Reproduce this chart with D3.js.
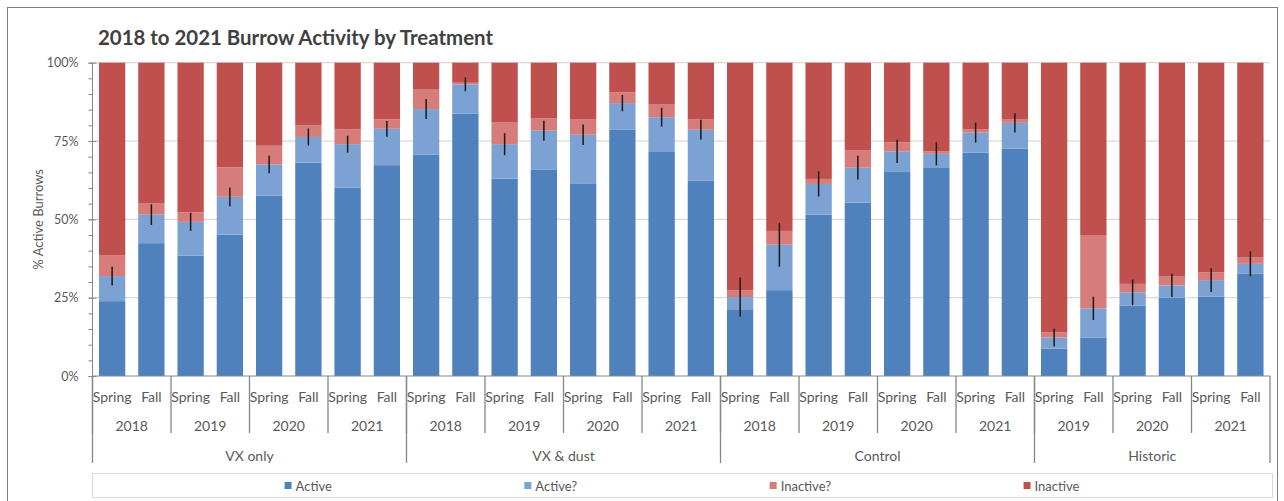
<!DOCTYPE html>
<html>
<head>
<meta charset="utf-8">
<script src="https://cdn.jsdelivr.net/npm/d3@7"></script>
<style>
  html, body { margin: 0; padding: 0; background: #fff; }
  svg { display: block; font-family: Lato, "Open Sans", sans-serif; }
</style>
</head>
<body>
<svg id="chart" width="1284" height="501"></svg>
<script>
// Treatments, the survey years of each treatment, and the two survey seasons
const groups = ["VX only", "VX & dust", "Control", "Historic"];
const groupYears = [
  ["2018", "2019", "2020", "2021"],
  ["2018", "2019", "2020", "2021"],
  ["2018", "2019", "2020", "2021"],
  ["2019", "2020", "2021"]
];
const seasons = ["Spring", "Fall"];

// Percent of burrows in each status, one value per season bar (in order above)
const active = [
  23.9, 42.4, 38.4, 45.1, 57.6, 68.1, 60.1, 67.3,
  70.6, 83.8, 63.0, 65.8, 61.3, 78.7, 71.5, 62.3,
  21.3, 27.4, 51.5, 55.3, 65.1, 66.4, 71.3, 72.6,
  8.7, 12.3, 22.4, 25.0, 25.3, 32.6
];
const activeQ = [
  8.0, 9.1, 10.8, 12.1, 9.9, 8.2, 13.9, 11.6,
  14.6, 9.3, 11.0, 12.5, 15.7, 8.4, 11.1, 16.3,
  3.9, 14.5, 9.8, 11.2, 6.6, 4.5, 6.4, 8.2,
  3.6, 9.3, 4.3, 3.9, 5.3, 3.2
];
const inactiveQ = [
  6.7, 3.7, 3.0, 9.4, 6.0, 3.7, 4.7, 3.0,
  6.2, 0.5, 6.9, 4.0, 5.0, 3.5, 4.2, 3.4,
  2.2, 4.4, 1.6, 5.6, 2.9, 0.8, 1.1, 1.2,
  1.7, 23.4, 2.7, 3.0, 2.5, 2.0
];
const inactive = [
  61.4, 44.8, 47.8, 33.4, 26.5, 20.0, 21.3, 18.1,
  8.6, 6.4, 19.1, 17.7, 18.0, 9.4, 13.2, 18.0,
  72.6, 53.7, 37.1, 27.9, 25.4, 28.3, 21.2, 18.0,
  86.0, 55.0, 70.6, 68.1, 66.9, 62.2
];
// Error (+/-) on the combined Active + Active? share
const activeErr = [
  3.0, 3.3, 2.9, 3.0, 2.8, 2.7, 2.7, 2.5,
  3.2, 2.2, 3.5, 3.2, 3.3, 2.6, 3.0, 3.2,
  6.2, 7.0, 4.0, 3.8, 3.7, 3.7, 3.2, 3.1,
  2.9, 3.7, 4.1, 3.7, 3.8, 4.0
];

const seriesNames = ["Active", "Active?", "Inactive?", "Inactive"];
const seriesKeys = ["active", "activeQ", "inactiveQ", "inactive"];
const seriesColors = ["#4f81bd", "#7ba2d3", "#d67c7b", "#c0504d"];
const yTicks = [0, 25, 50, 75, 100];

// Build one row per bar
const rows = [];
groups.forEach((g, gi) => {
  groupYears[gi].forEach(yr => {
    seasons.forEach(s => {
      const i = rows.length;
      rows.push({
        id: i, group: g, gi, year: yr, season: s,
        active: active[i], activeQ: activeQ[i],
        inactiveQ: inactiveQ[i], inactive: inactive[i],
        err: activeErr[i]
      });
    });
  });
});

const svg = d3.select("#chart");
const W = 1284, H = 501;
const plot = { left: 92.5, right: 1270, top: 62.7, bottom: 376 };

// Chart frame
svg.append("rect")
  .attr("x", 7.5).attr("y", 7.5)
  .attr("width", 1270).attr("height", 510)
  .attr("fill", "#fff").attr("stroke", "#7f7f7f").attr("stroke-width", 1);

// Title
svg.append("text")
  .attr("x", 98).attr("y", 45)
  .attr("font-size", 20).attr("font-weight", 700)
  .attr("fill", "#404040")
  .attr("textLength", 395).attr("lengthAdjust", "spacingAndGlyphs")
  .text("2018 to 2021 Burrow Activity by Treatment");

const x = d3.scaleBand()
  .domain(rows.map(d => d.id))
  .range([plot.left, plot.right])
  .paddingInner(0.33).paddingOuter(0.165);

const y = d3.scaleLinear().domain([0, 100]).range([plot.bottom, plot.top]);

// Gridlines
svg.append("g").selectAll("line")
  .data(yTicks.filter(t => t > 0))
  .join("line")
  .attr("x1", plot.left).attr("x2", plot.right)
  .attr("y1", d => y(d)).attr("y2", d => y(d))
  .attr("stroke", "#d0d0d0").attr("stroke-width", 1);

// Stacked bars
const stack = d3.stack().keys(seriesKeys);
const layers = stack(rows);
svg.append("g").selectAll("g")
  .data(layers)
  .join("g")
  .attr("fill", (d, i) => seriesColors[i])
  .selectAll("rect")
  .data(d => d)
  .join("rect")
  .attr("x", d => x(d.data.id))
  .attr("width", x.bandwidth())
  .attr("y", d => y(d[1]))
  .attr("height", d => y(d[0]) - y(d[1]));

// Error bars on the Active + Active? total
svg.append("g").selectAll("line")
  .data(rows)
  .join("line")
  .attr("x1", d => x(d.id) + x.bandwidth() / 2)
  .attr("x2", d => x(d.id) + x.bandwidth() / 2)
  .attr("y1", d => y(d.active + d.activeQ + d.err))
  .attr("y2", d => y(d.active + d.activeQ - d.err))
  .attr("stroke", "#1a1a1a").attr("stroke-width", 1.5);

// Y axis: minor ticks every 5%, major ticks crossing the axis
const axisColor = "#868686";
svg.append("g")
  .attr("transform", `translate(${plot.left},0)`)
  .call(d3.axisLeft(y).tickValues(d3.range(0, 101, 5)).tickSize(4).tickFormat(""))
  .call(g => g.select(".domain").remove())
  .call(g => g.selectAll(".tick line").attr("stroke", axisColor));

const yAxis = svg.append("g")
  .attr("transform", `translate(${plot.left},0)`)
  .call(d3.axisLeft(y).tickValues(yTicks).tickSize(4).tickPadding(10)
    .tickFormat(d => d + "%"));
yAxis.select(".domain").attr("stroke", axisColor).attr("d", `M0,${plot.top}V${plot.bottom}`);
yAxis.selectAll(".tick line").attr("x1", 4).attr("x2", -4).attr("stroke", axisColor);
yAxis.selectAll(".tick text")
  .attr("font-size", 12.5).attr("font-family", "Lato, sans-serif").attr("fill", "#595959");

// Y axis title
svg.append("text")
  .attr("transform", `translate(38,${(plot.top + plot.bottom) / 2}) rotate(-90)`)
  .attr("text-anchor", "middle").attr("dominant-baseline", "central")
  .attr("font-size", 13).attr("fill", "#595959")
  .text("% Active Burrows");

// Category axis with three label levels
const cat = svg.append("g");
cat.append("line")
  .attr("x1", plot.left).attr("x2", plot.right)
  .attr("y1", plot.bottom).attr("y2", plot.bottom)
  .attr("stroke", axisColor);

const rowSeasonY = 396, rowYearY = 425, rowGroupY = 455;
const yearLineEnd = 433, groupLineEnd = 463;

cat.selectAll("text.season")
  .data(rows)
  .join("text")
  .attr("class", "season")
  .attr("x", d => x(d.id) + x.bandwidth() / 2)
  .attr("y", rowSeasonY)
  .attr("text-anchor", "middle").attr("dominant-baseline", "central")
  .attr("font-size", 14).attr("fill", "#595959")
  .text(d => d.season);

// Year spans and group spans derived from the rows
const yearSpans = d3.groups(rows, d => d.gi + "|" + d.year).map(([k, v]) => ({
  label: v[0].year, first: v[0].id, last: v[v.length - 1].id
}));
const groupSpans = d3.groups(rows, d => d.gi).map(([k, v]) => ({
  label: v[0].group, first: v[0].id, last: v[v.length - 1].id
}));
const spanLeft = s => x(s.first) - x.step() * x.paddingOuter();
const spanRight = s => x(s.last) + x.bandwidth() + x.step() * x.paddingOuter();

cat.selectAll("text.year")
  .data(yearSpans)
  .join("text")
  .attr("class", "year")
  .attr("x", d => (spanLeft(d) + spanRight(d)) / 2)
  .attr("y", rowYearY)
  .attr("text-anchor", "middle").attr("dominant-baseline", "central")
  .attr("font-size", 14).attr("fill", "#595959")
  .text(d => d.label);

cat.selectAll("line.yearsep")
  .data(yearSpans)
  .join("line")
  .attr("class", "yearsep")
  .attr("x1", d => spanLeft(d)).attr("x2", d => spanLeft(d))
  .attr("y1", plot.bottom).attr("y2", yearLineEnd)
  .attr("stroke", axisColor).attr("stroke-width", 1.3);

cat.selectAll("text.group")
  .data(groupSpans)
  .join("text")
  .attr("class", "group")
  .attr("x", d => (spanLeft(d) + spanRight(d)) / 2)
  .attr("y", rowGroupY)
  .attr("text-anchor", "middle").attr("dominant-baseline", "central")
  .attr("font-size", 14).attr("fill", "#595959")
  .text(d => d.label);

const groupEdges = groupSpans.map(spanLeft).concat([plot.right]);
cat.selectAll("line.groupsep")
  .data(groupEdges)
  .join("line")
  .attr("class", "groupsep")
  .attr("x1", d => d).attr("x2", d => d)
  .attr("y1", plot.bottom).attr("y2", groupLineEnd)
  .attr("stroke", axisColor).attr("stroke-width", 1.3);

// Legend: entries spread with equal gaps across the box
const legendBox = { x: 92, y: 473, w: 1180, h: 24 };
const legend = svg.append("g");
legend.append("rect")
  .attr("x", legendBox.x + 0.5).attr("y", legendBox.y + 0.5)
  .attr("width", legendBox.w).attr("height", legendBox.h)
  .attr("fill", "#fff").attr("stroke", "#d9d9d9");

const sw = 7, swGap = 4;
const items = legend.selectAll("g.item")
  .data(seriesNames)
  .join("g").attr("class", "item");
items.append("rect")
  .attr("width", sw).attr("height", sw)
  .attr("y", legendBox.y + legendBox.h / 2 - sw / 2 + 0.5)
  .attr("fill", (d, i) => seriesColors[i]);
items.append("text")
  .attr("x", sw + swGap)
  .attr("y", legendBox.y + legendBox.h / 2 + 0.5)
  .attr("dominant-baseline", "central")
  .attr("font-size", 13).attr("fill", "#595959")
  .text(d => d);

const widths = [];
items.each(function () {
  widths.push(sw + swGap + d3.select(this).select("text").node().getComputedTextLength());
});
const gap = (legendBox.w - d3.sum(widths)) / (widths.length + 1);
let cursor = legendBox.x + gap;
items.each(function (d, i) {
  d3.select(this).select("rect").attr("x", cursor);
  d3.select(this).select("text").attr("x", cursor + sw + swGap);
  cursor += widths[i] + gap;
});
</script>
</body>
</html>
